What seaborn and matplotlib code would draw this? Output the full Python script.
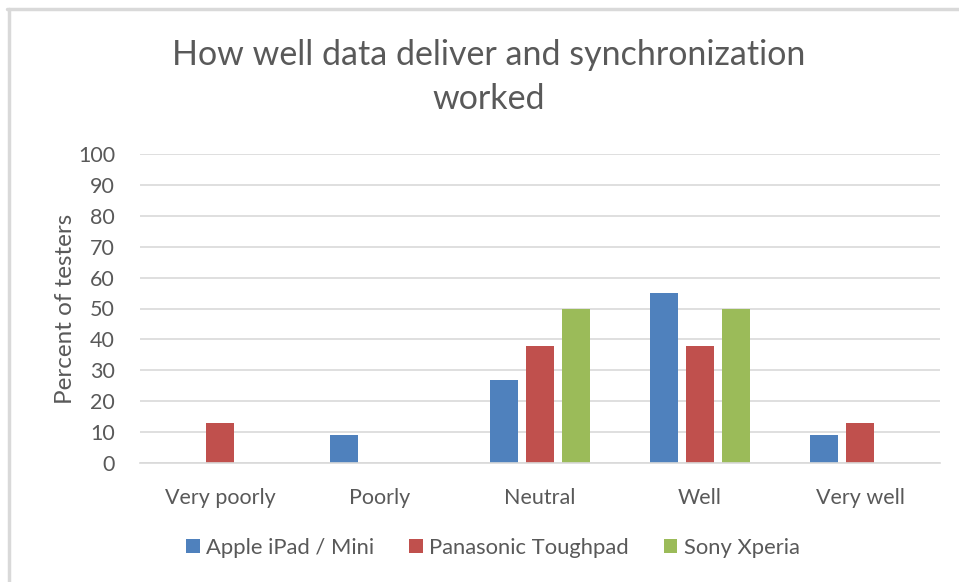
import matplotlib
matplotlib.use("Agg")
import matplotlib.pyplot as plt
from matplotlib.lines import Line2D
from matplotlib.patches import Patch
import seaborn as sns
import pandas as pd

# --- Data ---
categories = ["Very poorly", "Poorly", "Neutral", "Well", "Very well"]
devices = ["Apple iPad / Mini", "Panasonic Toughpad", "Sony Xperia"]
apple = [0, 9, 27, 55, 9]
panasonic = [13, 0, 38, 38, 13]
sony = [0, 0, 50, 50, 0]
colors = ["#4F81BD", "#C0504D", "#9BBB59"]

rows = []
for dev, vals in zip(devices, [apple, panasonic, sony]):
    for cat, v in zip(categories, vals):
        rows.append({"rating": cat, "device": dev, "percent": v})
df = pd.DataFrame(rows)

# --- Style ---
sns.set_style("white")
plt.rcParams["font.family"] = ["Lato", "DejaVu Sans"]
grey = "#595959"

fig = plt.figure(figsize=(9.59, 5.82), dpi=100)
ax = fig.add_axes([140 / 959, 119 / 582, 800 / 959, 309 / 582])

sns.barplot(
    data=df, x="rating", y="percent", hue="device",
    order=categories, hue_order=devices, palette=colors,
    width=0.675, gap=0.24, linewidth=0, saturation=1,
    legend=False, ax=ax,
)

ax.set_xlim(-0.5, 4.5)
ax.set_ylim(0, 100)
ax.set_yticks(range(0, 101, 10))
ax.yaxis.grid(True, color="#d9d9d9", linewidth=1.2)
ax.set_axisbelow(True)
for side in ["top", "right", "left"]:
    ax.spines[side].set_visible(False)
ax.spines["bottom"].set_color("#d9d9d9")
ax.spines["bottom"].set_linewidth(1.2)
ax.tick_params(axis="both", length=0, labelsize=15.5, colors=grey)
ax.tick_params(axis="x", pad=18)
ax.tick_params(axis="y", pad=18)
ax.set_xlabel("")
ax.set_ylabel("Percent of testers", fontsize=17.5, color=grey, labelpad=1)

# --- Title ---
fig.text(489 / 959, 1 - 77 / 582, "How well data deliver and synchronization\nworked",
         ha="center", va="center", fontsize=24.5, color=grey, linespacing=1.45)

# --- Legend ---
handles = [Patch(facecolor=c, edgecolor="none") for c in colors]
fig.legend(handles, devices, loc="center", bbox_to_anchor=(493 / 959, 1 - 548 / 582),
           ncol=3, frameon=False, fontsize=15.8, handlelength=0.6, handleheight=0.6,
           handletextpad=0.3, columnspacing=1.6, labelcolor=grey)

# --- Chart frame (top and left edges) ---
fig.add_artist(Line2D([7 / 959, 1], [1 - 9 / 582] * 2, color="#d9d9d9", lw=2.5,
                      transform=fig.transFigure))
fig.add_artist(Line2D([8.5 / 959] * 2, [0, 1 - 9 / 582], color="#d9d9d9", lw=2.5,
                      transform=fig.transFigure))

fig.savefig("out.png", dpi=100)
